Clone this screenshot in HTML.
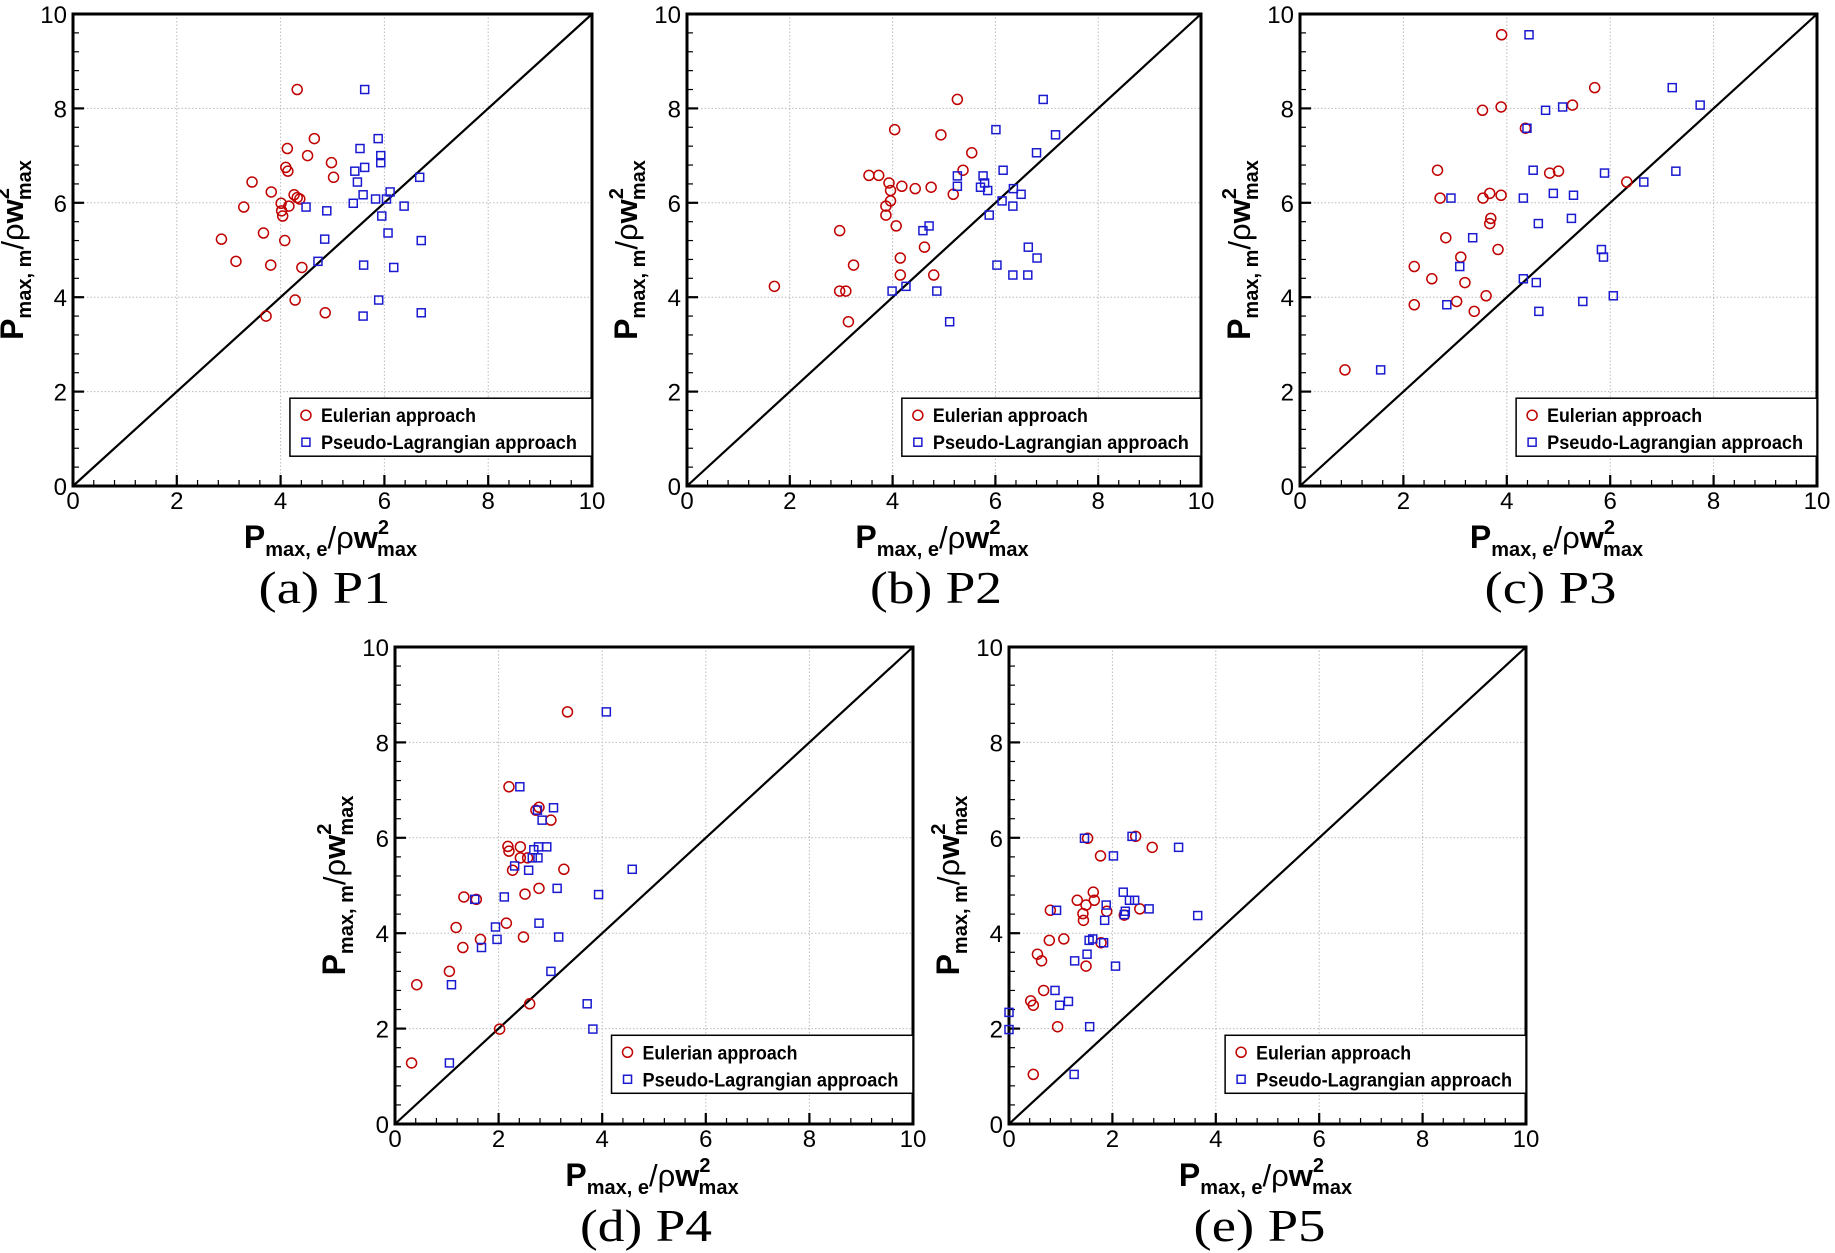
<!DOCTYPE html>
<html><head><meta charset="utf-8">
<style>
html,body{margin:0;padding:0;background:#fff;}
svg{display:block;}
</style></head>
<body>
<svg id="chart" width="1835" height="1253" viewBox="0 0 1835 1253" xmlns="http://www.w3.org/2000/svg" font-family="Liberation Sans, Arial, sans-serif"></svg>
<script>
// ---- data (x = P_max,e/ρw²max, y = P_max,m/ρw²max) ----
const panelNames = ["(a) P1","(b) P2","(c) P3","(d) P4","(e) P5"];
const tickLabels = [0,2,4,6,8,10];

const aEulX = [4.32,4.65,4.13,4.52,4.98,4.10,4.14,5.02,3.45,3.82,4.26,4.32,4.37,4.01,4.16,3.29,4.02,4.04,3.67,2.86,4.08,3.14,3.81,4.41,4.28,4.86,3.72];
const aEulY = [8.40,7.36,7.15,7.00,6.85,6.75,6.67,6.54,6.44,6.23,6.17,6.11,6.08,5.99,5.93,5.91,5.83,5.72,5.36,5.23,5.20,4.76,4.68,4.63,3.94,3.67,3.60];
const aLagX = [5.62,5.88,5.53,5.93,5.93,5.62,5.43,6.68,5.48,6.11,5.59,5.83,6.04,5.40,4.49,6.38,4.89,5.95,6.07,4.85,6.71,4.72,5.60,6.18,5.89,6.71,5.59];
const aLagY = [8.40,7.36,7.15,7.00,6.85,6.75,6.67,6.54,6.44,6.23,6.17,6.08,6.08,5.99,5.91,5.93,5.83,5.72,5.36,5.23,5.20,4.76,4.68,4.63,3.94,3.67,3.60];

const bEulX = [5.26,4.04,4.94,5.54,5.37,3.54,3.73,3.93,4.18,4.44,4.75,3.96,5.18,3.96,3.87,3.87,4.07,2.97,4.62,4.15,3.24,4.15,4.80,1.70,2.97,3.09,3.14];
const bEulY = [8.19,7.55,7.44,7.06,6.69,6.58,6.58,6.42,6.35,6.30,6.33,6.26,6.18,6.04,5.93,5.74,5.51,5.41,5.06,4.83,4.68,4.47,4.47,4.23,4.13,4.13,3.48];
const bLagX = [6.93,6.01,7.17,6.80,6.15,5.26,5.76,5.79,5.26,5.71,6.35,5.85,6.50,6.13,6.34,5.88,4.71,4.59,6.64,6.81,6.03,6.34,6.63,4.26,3.99,4.86,5.11];
const bLagY = [8.19,7.55,7.44,7.06,6.69,6.57,6.57,6.42,6.35,6.33,6.30,6.26,6.18,6.04,5.93,5.74,5.51,5.41,5.06,4.83,4.68,4.47,4.47,4.23,4.13,4.13,3.48];

const cEulX = [3.90,5.70,5.27,3.89,3.53,4.36,2.66,5.00,4.83,6.32,3.67,3.89,2.71,3.54,3.69,3.67,2.82,3.83,3.11,2.21,2.55,3.19,3.60,3.03,2.21,3.37,0.87];
const cEulY = [9.56,8.44,8.07,8.03,7.96,7.58,6.69,6.67,6.63,6.44,6.20,6.16,6.10,6.10,5.67,5.56,5.26,5.01,4.85,4.65,4.39,4.31,4.03,3.91,3.84,3.70,2.46];
const cLagX = [4.43,7.20,7.74,5.08,4.75,4.39,4.51,7.27,5.89,6.65,4.90,5.29,2.92,4.32,5.25,4.61,3.34,5.83,5.87,3.09,4.32,4.57,6.06,5.47,2.84,4.62,1.56];
const cLagY = [9.56,8.44,8.07,8.03,7.96,7.58,6.69,6.67,6.63,6.44,6.20,6.16,6.10,6.10,5.67,5.56,5.26,5.01,4.85,4.65,4.39,4.31,4.03,3.91,3.84,3.70,2.46];

const dEulX = [3.33,2.20,2.78,2.72,3.01,2.18,2.42,2.20,2.42,2.56,2.27,3.26,2.78,2.51,1.33,1.57,2.15,1.18,2.48,1.65,1.31,1.05,0.42,2.60,2.02,0.32];
const dEulY = [8.64,7.07,6.64,6.58,6.37,5.82,5.81,5.72,5.58,5.58,5.32,5.34,4.94,4.82,4.76,4.71,4.21,4.12,3.92,3.87,3.70,3.20,2.92,2.52,1.99,1.28];
const dLagX = [4.08,2.41,3.06,2.75,2.84,2.93,2.77,2.68,2.76,2.65,2.31,2.58,4.58,3.13,3.93,1.54,2.11,1.94,2.78,1.97,3.16,1.67,3.01,1.09,3.71,3.82,1.05];
const dLagY = [8.64,7.07,6.63,6.58,6.37,5.81,5.81,5.75,5.58,5.58,5.41,5.32,5.34,4.94,4.81,4.71,4.76,4.13,4.21,3.87,3.92,3.70,3.20,2.92,2.52,1.99,1.28];

const eEulX = [2.45,1.52,2.77,1.77,1.63,1.32,1.65,1.49,0.80,1.89,2.53,1.43,2.23,1.44,0.78,1.06,1.78,0.55,0.63,1.49,0.67,0.42,0.47,0.94,0.47];
const eEulY = [6.03,5.99,5.80,5.62,4.86,4.69,4.69,4.59,4.48,4.46,4.51,4.41,4.38,4.27,3.85,3.88,3.80,3.56,3.42,3.31,2.80,2.58,2.49,2.04,1.04];
const eLagX = [2.38,1.46,3.28,2.02,2.21,2.33,2.43,1.88,0.92,2.71,2.25,2.23,3.65,1.85,1.55,1.62,1.83,1.51,1.27,2.06,0.89,1.15,0.98,1.56,0.00,0.00,1.26];
const eLagY = [6.03,5.99,5.80,5.62,4.86,4.69,4.69,4.59,4.48,4.51,4.46,4.39,4.37,4.27,3.85,3.88,3.80,3.56,3.42,3.31,2.80,2.57,2.49,2.04,2.34,1.98,1.04];

const eulXs = [aEulX,bEulX,cEulX,dEulX,eEulX];
const eulYs = [aEulY,bEulY,cEulY,dEulY,eEulY];
const lagXs = [aLagX,bLagX,cLagX,dLagX,eLagX];
const lagYs = [aLagY,bLagY,cLagY,dLagY,eLagY];

// ---- layout ----
const frames = [
  {x:73,y:14,w:519,h:472},
  {x:687,y:14,w:514,h:472},
  {x:1300,y:14,w:517,h:472},
  {x:395,y:647,w:518,h:477},
  {x:1009,y:647,w:517,h:477}
];
const NS="http://www.w3.org/2000/svg";
const svg=document.getElementById('chart');
function mk(tag,attrs,parent){const e=document.createElementNS(NS,tag);for(const k in attrs)e.setAttribute(k,attrs[k]);(parent||svg).appendChild(e);return e;}
const TITLE_X='<tspan font-size="32">P</tspan><tspan font-size="20" dy="8">max, e</tspan><tspan font-size="31" dy="-8" font-weight="normal">/ρ</tspan><tspan font-size="31">w</tspan><tspan font-size="20" dy="-14">2</tspan><tspan font-size="20" dx="-12" dy="22">max</tspan>';
const TITLE_Y='<tspan font-size="32">P</tspan><tspan font-size="20" dy="8">max, m</tspan><tspan font-size="31" dy="-8" font-weight="normal">/ρ</tspan><tspan font-size="31">w</tspan><tspan font-size="20" dy="-14">2</tspan><tspan font-size="20" dx="-12" dy="22">max</tspan>';

frames.forEach((f,i)=>{
  const g=mk('g',{});
  
  
  const sx=v=>f.x+v/10*f.w;
  const sy=v=>f.y+f.h-v/10*f.h;
  tickLabels.forEach(t=>{
    if(t>0&&t<10){
      const gl=mk('line',{x1:sx(t),x2:sx(t),y1:f.y,y2:f.y+f.h,stroke:'#bbb','stroke-width':1,'stroke-dasharray':'1.5 2'},g);
      
      
      const gh=mk('line',{x1:f.x,x2:f.x+f.w,y1:sy(t),y2:sy(t),stroke:'#bbb','stroke-width':1,'stroke-dasharray':'1.5 2'},g);
      
      
    }
  });
  for(let k=0;k<=25;k++){
    const v=k*0.4, major=(k%5===0), len=major?11:6;
    mk('line',{x1:sx(v),x2:sx(v),y1:f.y+f.h,y2:f.y+f.h-len,stroke:'#000','stroke-width':major?2.2:1.2},g);
    mk('line',{x1:f.x,x2:f.x+len,y1:sy(v),y2:sy(v),stroke:'#000','stroke-width':major?2.2:1.2},g);
  }
  tickLabels.forEach(t=>{
    const xl=mk('text',{x:sx(t),y:f.y+f.h+23,'font-size':24,'text-anchor':'middle'},g);
    xl.textContent=t;
    
    
    const yl=mk('text',{x:f.x-6,y:sy(t)+9,'font-size':24,'text-anchor':'end'},g);
    yl.textContent=t;
    
    
  });
  const diag=mk('line',{x1:sx(0),y1:sy(0),x2:sx(10),y2:sy(10),stroke:'#000','stroke-width':2.2},g);
  
  
  const fr=mk('rect',{x:f.x,y:f.y,width:f.w,height:f.h,fill:'none',stroke:'#000','stroke-width':3},g);
  
  
  eulXs[i].forEach((xv,j)=>{
    const c=mk('circle',{cx:sx(xv),cy:sy(eulYs[i][j]),r:5,fill:'none',stroke:'#c00000','stroke-width':1.5},g);
    
    
  });
  lagXs[i].forEach((xv,j)=>{
    const s=mk('rect',{x:sx(xv)-4,y:sy(lagYs[i][j])-4,width:8,height:8,fill:'none',stroke:'#1a1ad0','stroke-width':1.5},g);
    
    
  });
  const lx=f.x+0.418*f.w, ly=f.y+0.814*f.h, lw=f.x+f.w-lx, lh=58;
  const lg=mk('g',{},g);
  
  
  mk('rect',{x:lx,y:ly,width:lw,height:lh,fill:'#fff',stroke:'#000','stroke-width':1.5},lg);
  mk('circle',{cx:lx+16,cy:ly+17,r:5,fill:'none',stroke:'#c00000','stroke-width':1.5},lg);
  mk('rect',{x:lx+12,y:ly+40,width:8,height:8,fill:'none',stroke:'#1a1ad0','stroke-width':1.5},lg);
  const t1=mk('text',{x:lx+31,y:ly+24,'font-size':19,'font-weight':'bold',textLength:155,lengthAdjust:'spacingAndGlyphs'},lg);
  t1.textContent='Eulerian approach';
  
  
  const t2=mk('text',{x:lx+31,y:ly+51,'font-size':19,'font-weight':'bold',textLength:256,lengthAdjust:'spacingAndGlyphs'},lg);
  t2.textContent='Pseudo-Lagrangian approach';
  
  
  const xt=mk('text',{x:f.x+f.w/2-2,y:f.y+f.h+62,'text-anchor':'middle','font-weight':'bold'},g);
  
  
  xt.innerHTML=TITLE_X;
  const cx=f.x-50, cy=f.y+f.h/2;
  const yt=mk('text',{x:cx,y:cy,'text-anchor':'middle','font-weight':'bold',transform:`rotate(-90 ${cx} ${cy})`},g);
  
  
  yt.innerHTML=TITLE_Y;
  const cp=mk('text',{x:f.x+f.w/2-8,y:f.y+f.h+117,'text-anchor':'middle','font-size':46,'font-family':'Liberation Serif, Times New Roman, serif',textLength:132,lengthAdjust:'spacingAndGlyphs'},g);
  cp.textContent=panelNames[i];
  
  
});
</script>
</body></html>
